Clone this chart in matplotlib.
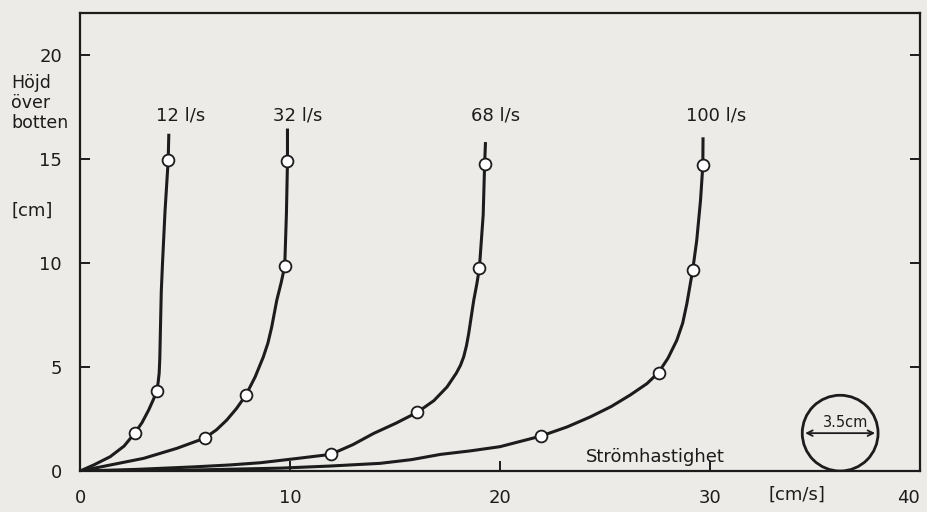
import matplotlib
matplotlib.use('Agg')
import matplotlib.pyplot as plt
from matplotlib.patches import Ellipse

# Mätpunkter (strömhastighet [cm/s], höjd över botten [cm])
flows = ['12 l/s', '32 l/s', '68 l/s', '100 l/s']

pts_v_12 = [2.62, 3.66, 4.20]
pts_h_12 = [1.84, 3.85, 14.92]
pts_v_32 = [5.94, 7.89, 9.75, 9.88]
pts_h_32 = [1.58, 3.63, 9.85, 14.87]
pts_v_68 = [11.94, 16.06, 19.02, 19.27]
pts_h_68 = [0.80, 2.82, 9.75, 14.77]
pts_v_100 = [21.95, 27.55, 29.18, 29.66]
pts_h_100 = [1.68, 4.73, 9.67, 14.68]

# Handritade kurvor, avlästa längs linjen
curve_v_12 = [0, 0.65, 1.44, 2.1, 2.62, 2.95, 3.27, 3.5, 3.66, 3.72, 3.77, 3.80, 3.83, 3.87, 3.93, 4.05, 4.20, 4.23]
curve_h_12 = [0, 0.29, 0.69, 1.2, 1.84, 2.32, 2.93, 3.45, 3.85, 4.25, 4.7, 5.4, 6.8, 8.6, 10.0, 12.5, 14.92, 16.2]
curve_v_32 = [0, 1.44, 3.03, 4.61, 5.94, 6.5, 6.99, 7.45, 7.89, 8.34, 8.73, 8.95, 9.13, 9.37, 9.58, 9.75, 9.83, 9.88, 9.88]
curve_h_32 = [0, 0.29, 0.61, 1.09, 1.58, 1.98, 2.45, 3.0, 3.63, 4.52, 5.48, 6.15, 6.92, 8.2, 9.05, 9.85, 12.36, 14.87, 16.45]
curve_v_68 = [0, 2.7, 5.42, 7.1, 8.6, 10.3, 11.94, 13.0, 13.99, 15.05, 16.06, 16.85, 17.48, 17.92, 18.12, 18.27, 18.4, 18.51, 18.75, 18.9, 19.02, 19.2, 19.27, 19.31]
curve_h_68 = [0, 0.08, 0.2, 0.29, 0.4, 0.6, 0.80, 1.27, 1.81, 2.3, 2.82, 3.38, 4.04, 4.7, 5.08, 5.48, 6.0, 6.6, 8.2, 9.0, 9.75, 12.3, 14.77, 15.8]
curve_v_100 = [0, 5.0, 9.56, 11.9, 14.3, 15.8, 17.17, 18.6, 20.0, 21.95, 23.2, 24.3, 25.3, 26.2, 27.0, 27.55, 28.0, 28.42, 28.7, 28.9, 29.18, 29.37, 29.55, 29.66, 29.67]
curve_h_100 = [0, 0.04, 0.14, 0.24, 0.37, 0.55, 0.8, 0.97, 1.17, 1.68, 2.12, 2.6, 3.1, 3.65, 4.2, 4.73, 5.42, 6.28, 7.1, 8.04, 9.67, 11.08, 13.0, 14.68, 16.03]

label_x = [4.8, 10.35, 19.78, 30.3]

ink = '#1c1c1c'
bg = '#ecebe8'

fig = plt.figure(figsize=(9.27, 5.12), dpi=100, facecolor=bg)
ax = fig.add_axes([0.0863, 0.080, 0.9061, 0.8946], facecolor=bg)

curves = [(curve_v_12, curve_h_12), (curve_v_32, curve_h_32),
          (curve_v_68, curve_h_68), (curve_v_100, curve_h_100)]
points = [(pts_v_12, pts_h_12), (pts_v_32, pts_h_32),
          (pts_v_68, pts_h_68), (pts_v_100, pts_h_100)]

for (cv, ch), (pv, ph), name, lx in zip(curves, points, flows, label_x):
    ax.plot(cv, ch, color=ink, lw=2.2, solid_joinstyle='round', solid_capstyle='butt', zorder=3)
    ax.plot(pv, ph, 'o', ms=8.5, mfc='white', mec=ink, mew=1.3, zorder=4)
    ax.text(lx, 17.07, name, ha='center', va='center', fontsize=13, color=ink)

ax.set_xlim(0, 40)
ax.set_ylim(0, 22)
ax.set_xticks([0, 10, 20, 30, 40])
ax.set_yticks([0, 5, 10, 15, 20])
ax.tick_params(direction='in', length=7, width=1.4, colors=ink, labelsize=13,
               right=True, pad=13)
ax.get_xticklabels()[-1].set_horizontalalignment('right')
for side in ax.spines.values():
    side.set_linewidth(1.6)
    side.set_color(ink)

# Axeltexter
ax.text(-3.28, 18.66, 'Höjd', fontsize=12.5, color=ink, va='center', ha='left', clip_on=False)
ax.text(-3.28, 17.70, 'över', fontsize=12.5, color=ink, va='center', ha='left', clip_on=False)
ax.text(-3.28, 16.74, 'botten', fontsize=12.5, color=ink, va='center', ha='left', clip_on=False)
ax.text(-3.28, 12.52, '[cm]', fontsize=13, color=ink, va='center', ha='left', clip_on=False)
ax.text(34.14, -1.15, '[cm/s]', fontsize=13, color=ink, va='center', ha='center', clip_on=False)
ax.text(27.39, 0.67, 'Strömhastighet', fontsize=13, color=ink, va='center', ha='center')

# Rörets tvärsnitt, 3.5 cm
ax.add_patch(Ellipse((36.2, 1.82), 3.61, 3.64, fill=False, ec=ink, lw=2.0, zorder=3))
ax.annotate('', xy=(34.4, 1.82), xytext=(38.0, 1.82),
            arrowprops=dict(arrowstyle='<->', color=ink, lw=1.3))
ax.text(36.45, 1.95, '3.5cm', fontsize=10.5, color=ink, ha='center', va='bottom')

fig.savefig('out.png', dpi=100, facecolor=bg)
